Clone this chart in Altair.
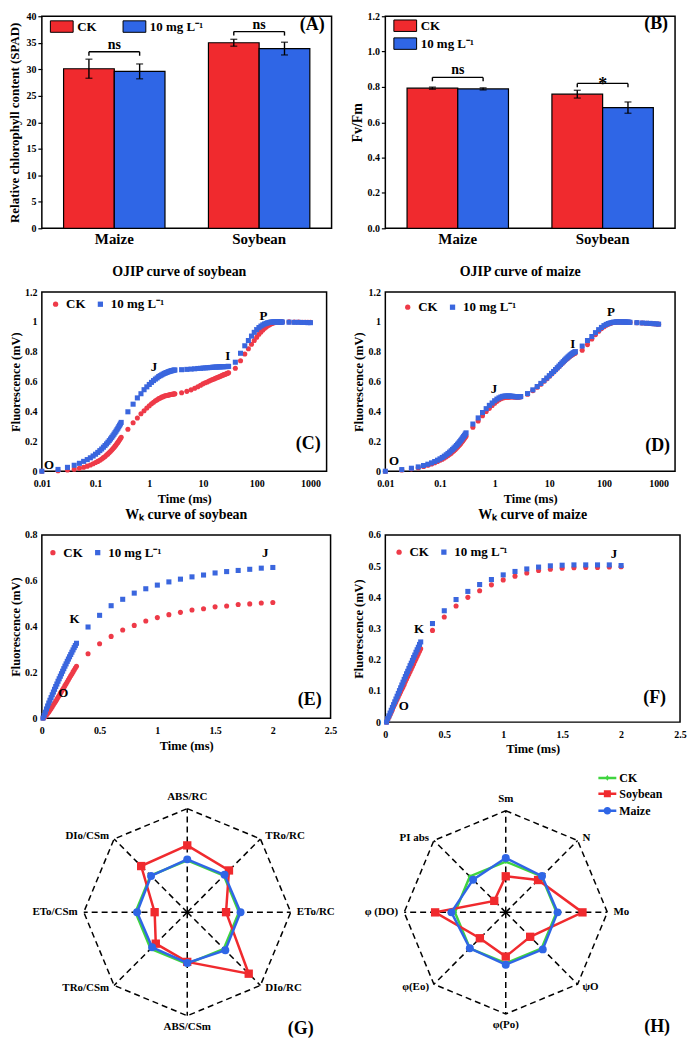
import altair as alt
import pandas as pd

FONT = "Liberation Serif"
RED = "#f02a2e"
BLUE = "#2f66e6"
PRED = "#ee3a48"
PBLUE = "#3a66de"
GREEN = "#3fd43f"

# ---------------- data : bar panels ----------------
crops = ["Maize", "Soybean"]
treatments = ["CK", "10 mg L⁻¹"]

spad_ck = [30.1, 35.0]
spad_ck_sd = [1.8, 0.65]
spad_trt = [29.6, 33.9]
spad_trt_sd = [1.4, 1.2]
spad_sig = ["ns", "ns"]
spad_bracket = [33.3, 37.1]

fvfm_ck = [0.793, 0.759]
fvfm_ck_sd = [0.006, 0.022]
fvfm_trt = [0.789, 0.683]
fvfm_trt_sd = [0.006, 0.032]
fvfm_sig = ["ns", "*"]
fvfm_bracket = [0.854, 0.820]

# ---------------- data : OJIP transients ----------------
time_ms = [0.01, 0.02, 0.03, 0.04, 0.05, 0.06, 0.07, 0.08, 0.09, 0.10,
           0.11, 0.12, 0.13, 0.14, 0.15, 0.16, 0.17, 0.18, 0.19, 0.20,
           0.21, 0.22, 0.23, 0.24, 0.25, 0.26, 0.27, 0.28, 0.29, 0.30,
           0.4, 0.5, 0.6, 0.7, 0.8, 0.9, 1.0, 1.1, 1.2, 1.3, 1.4, 1.5, 1.6, 1.7,
           1.8, 1.9, 2.0, 2.1, 2.2, 2.3, 2.4, 2.5, 2.6, 2.7, 2.8, 2.9, 3.0,
           4, 5, 6, 7, 8, 9, 10, 11, 12, 13, 14, 15, 16, 17, 18, 19, 20,
           21, 22, 23, 24, 25, 26, 27, 28, 29, 30,
           40, 50, 60, 70, 80, 90, 100, 110, 120, 130, 140, 150, 160, 170,
           180, 190, 200, 210, 220, 230, 240, 250, 260, 270, 280, 290, 300,
           400, 500, 600, 700, 800, 900, 1000]

soy_ck = [0.000, 0.003, 0.008, 0.014, 0.020, 0.027, 0.034, 0.042, 0.050, 0.058,
          0.066, 0.074, 0.082, 0.091, 0.099, 0.108, 0.116, 0.125, 0.133, 0.142,
          0.150, 0.159, 0.168, 0.176, 0.185, 0.193, 0.202, 0.210, 0.219, 0.227,
          0.281, 0.325, 0.357, 0.385, 0.405, 0.424, 0.439, 0.452, 0.462, 0.472, 0.478, 0.486, 0.490, 0.496,
          0.499, 0.503, 0.505, 0.507, 0.509, 0.511, 0.512, 0.514, 0.515, 0.516, 0.517, 0.518, 0.519,
          0.525, 0.535, 0.545, 0.556, 0.566, 0.576, 0.585, 0.592, 0.598, 0.604, 0.609, 0.614, 0.618, 0.622,
          0.626, 0.629, 0.633, 0.636, 0.639, 0.642, 0.645, 0.648, 0.650, 0.653, 0.655, 0.658, 0.660,
          0.690, 0.740, 0.785, 0.820, 0.850, 0.875, 0.898, 0.917, 0.933, 0.946, 0.957, 0.966, 0.974, 0.980,
          0.985, 0.989, 0.992, 0.994, 0.996, 0.997, 0.998, 0.999, 1.000, 1.000, 1.000, 1.000, 1.000,
          1.000, 0.999, 0.999, 0.998, 0.998, 0.997, 0.997]

soy_trt = [0.000, 0.012, 0.026, 0.040, 0.053, 0.066, 0.078, 0.090, 0.102, 0.114,
           0.126, 0.138, 0.149, 0.161, 0.172, 0.183, 0.194, 0.205, 0.216, 0.227,
           0.237, 0.248, 0.258, 0.268, 0.278, 0.288, 0.298, 0.308, 0.317, 0.327,
           0.398, 0.449, 0.491, 0.519, 0.546, 0.565, 0.581, 0.595, 0.607, 0.617, 0.625, 0.634, 0.640, 0.645,
           0.650, 0.655, 0.658, 0.661, 0.664, 0.667, 0.669, 0.671, 0.673, 0.674, 0.676, 0.677, 0.678,
           0.680, 0.682, 0.684, 0.686, 0.688, 0.689, 0.691, 0.692, 0.693, 0.694, 0.695, 0.696, 0.697, 0.697,
           0.698, 0.698, 0.699, 0.699, 0.700, 0.700, 0.700, 0.701, 0.701, 0.701, 0.701, 0.702, 0.702,
           0.730, 0.790, 0.840, 0.875, 0.905, 0.930, 0.948, 0.962, 0.972, 0.980, 0.986, 0.990, 0.994, 0.996,
           0.998, 0.999, 1.000, 1.000, 1.000, 1.000, 1.000, 1.000, 1.000, 0.999, 0.999, 0.999, 0.999,
           0.998, 0.997, 0.997, 0.996, 0.996, 0.995, 0.995]

maize_ck = [0.000, 0.008, 0.016, 0.024, 0.032, 0.040, 0.049, 0.057, 0.065, 0.073,
            0.081, 0.089, 0.097, 0.105, 0.113, 0.121, 0.130, 0.138, 0.146, 0.154,
            0.162, 0.170, 0.178, 0.186, 0.195, 0.203, 0.211, 0.219, 0.227, 0.235,
            0.294, 0.337, 0.372, 0.400, 0.421, 0.440, 0.456, 0.468, 0.478, 0.486, 0.490, 0.493, 0.495, 0.496,
            0.496, 0.497, 0.498, 0.498, 0.498, 0.497, 0.497, 0.497, 0.497, 0.497, 0.498, 0.498, 0.499,
            0.515, 0.540, 0.562, 0.583, 0.602, 0.620, 0.636, 0.651, 0.665, 0.678, 0.690, 0.701, 0.711, 0.721,
            0.730, 0.738, 0.746, 0.753, 0.759, 0.765, 0.770, 0.775, 0.779, 0.783, 0.786, 0.789, 0.792,
            0.810, 0.848, 0.885, 0.915, 0.938, 0.955, 0.968, 0.978, 0.985, 0.990, 0.994, 0.996, 0.998, 0.999,
            1.000, 1.000, 1.000, 1.000, 1.000, 0.999, 0.999, 0.999, 0.998, 0.998, 0.998, 0.997, 0.997,
            0.995, 0.993, 0.991, 0.989, 0.988, 0.986, 0.985]

maize_trt = [0.000, 0.011, 0.020, 0.029, 0.038, 0.047, 0.056, 0.065, 0.074, 0.083,
             0.092, 0.101, 0.110, 0.119, 0.128, 0.137, 0.146, 0.155, 0.163, 0.172,
             0.181, 0.189, 0.198, 0.207, 0.215, 0.224, 0.232, 0.240, 0.249, 0.257,
             0.316, 0.357, 0.393, 0.419, 0.441, 0.457, 0.472, 0.483, 0.491, 0.497, 0.501, 0.503, 0.504, 0.504,
             0.504, 0.504, 0.502, 0.502, 0.501, 0.500, 0.500, 0.499, 0.499, 0.499, 0.499, 0.500, 0.500,
             0.520, 0.545, 0.567, 0.588, 0.607, 0.624, 0.640, 0.655, 0.668, 0.681, 0.693, 0.704, 0.715, 0.725,
             0.734, 0.743, 0.751, 0.758, 0.765, 0.771, 0.777, 0.782, 0.787, 0.791, 0.795, 0.798, 0.801,
             0.838, 0.875, 0.902, 0.928, 0.948, 0.963, 0.975, 0.983, 0.989, 0.993, 0.996, 0.998, 0.999, 1.000,
             1.000, 1.000, 1.000, 1.000, 1.000, 0.999, 0.999, 0.999, 0.998, 0.998, 0.998, 0.997, 0.997,
             0.995, 0.993, 0.991, 0.990, 0.988, 0.987, 0.985]

# curve annotations (label, time, fluorescence)
ann_c = [("O", 0.0136, 0.043), ("J", 1.22, 0.70), ("I", 28.8, 0.774), ("P", 134, 1.04)]
ann_d = [("O", 0.0144, 0.067), ("J", 0.97, 0.55), ("I", 27, 0.855), ("P", 134, 1.065)]
ann_e = [("O", 0.186, 0.108), ("K", 0.283, 0.434), ("J", 1.934, 0.72)]
ann_f = [("O", 0.157, 0.053), ("K", 0.286, 0.30), ("J", 1.94, 0.539)]

# ---------------- data : radar panels ----------------
series_names = ["CK", "Soybean", "Maize"]
g_axes = ["ABS/RC", "TRo/RC", "ETo/RC", "DIo/RC", "ABS/CSm", "TRo/CSm", "ETo/CSm", "DIo/CSm"]
g_ck = [1.0, 1.0, 1.0, 1.0, 1.0, 1.0, 1.0, 1.0]
g_soy = [1.29, 1.14, 0.75, 1.68, 0.96, 0.86, 0.63, 1.26]
g_maize = [1.02, 1.02, 1.03, 1.04, 0.98, 0.96, 0.97, 0.99]

h_axes = ["Sm", "N", "Mo", "ψO", "φ(Po)", "φ(Eo)", "φ (DO)", "PI abs"]
h_ck = [1.0, 1.0, 1.0, 1.0, 1.0, 1.0, 1.0, 1.0]
h_soy = [0.71, 0.90, 1.51, 0.68, 0.87, 0.72, 1.39, 0.32]
h_maize = [1.07, 1.01, 1.02, 1.03, 1.03, 1.00, 1.07, 0.91]

R_MAX = 2.0
R_LAB = 2.08

RECT = "M-1.27,-0.64H1.27V0.64H-1.27Z"


def bold_text(**kw):
    base = dict(font=FONT, fontWeight="bold", color="black")
    base.update(kw)
    return base


def letter_layer(letter, x, y, size=18):
    return alt.Chart(pd.DataFrame({"t": [letter]})).mark_text(
        **bold_text(fontSize=size, align="right", baseline="middle")
    ).encode(x=alt.value(x), y=alt.value(y), text="t:N")


def bar_panel(ck, ck_sd, trt, trt_sd, sig, br, drop, ymax, yvals, yfmt, ytitle, ytitle_size,
              ytitle_pad, legend, letter, w, h, letter_y):
    rows = []
    for i, c in enumerate(crops):
        rows.append(dict(crop=c, trt=treatments[0], v=ck[i], lo=ck[i] - ck_sd[i], hi=ck[i] + ck_sd[i]))
        rows.append(dict(crop=c, trt=treatments[1], v=trt[i], lo=trt[i] - trt_sd[i], hi=trt[i] + trt_sd[i]))
    df = pd.DataFrame(rows)
    brows = []
    for i, c in enumerate(crops):
        for t in treatments:
            brows.append(dict(crop=c, trt=t, b=br[i], b2=br[i] - drop))
    bdf = pd.DataFrame(brows)
    sdf = pd.DataFrame({"crop": crops, "sig": sig, "b": br})

    X = alt.X("crop:N", sort=crops, title=None,
              scale=alt.Scale(paddingInner=0.3, paddingOuter=0.15),
              axis=alt.Axis(labelAngle=0, labelFontSize=15, ticks=False, labelPadding=3))
    XO = alt.XOffset("trt:N", sort=treatments)
    ys = alt.Scale(domain=[0, ymax], nice=False)
    yax = alt.Axis(values=yvals, tickCount=len(yvals), format=yfmt, labelFontSize=10, ticks=True,
                   tickSize=4, tickWidth=1.2, labelPadding=2, labelOverlap=False,
                   titleFontSize=ytitle_size, titlePadding=ytitle_pad)
    Yv = alt.Y("v:Q", scale=ys, axis=yax, title=ytitle)

    bars = alt.Chart(df).mark_bar(stroke="black", strokeWidth=1.2, opacity=1).encode(
        x=X, xOffset=XO, y=Yv,
        color=alt.Color("trt:N", sort=treatments,
                        scale=alt.Scale(domain=treatments, range=[RED, BLUE]), legend=legend),
    )
    err = alt.Chart(df).mark_rule(color="black", strokeWidth=1.4).encode(
        x=X, xOffset=XO, y=alt.Y("lo:Q", scale=ys, axis=yax, title=ytitle), y2="hi:Q")
    cap1 = alt.Chart(df).mark_tick(color="black", size=7, thickness=1.4).encode(
        x=X, xOffset=XO, y=alt.Y("lo:Q", scale=ys, axis=yax, title=ytitle))
    cap2 = alt.Chart(df).mark_tick(color="black", size=7, thickness=1.4).encode(
        x=X, xOffset=XO, y=alt.Y("hi:Q", scale=ys, axis=yax, title=ytitle))
    bline = alt.Chart(bdf).mark_line(color="black", strokeWidth=1.4).encode(
        x=X, xOffset=XO, y=alt.Y("b:Q", scale=ys, axis=yax, title=ytitle), detail="crop:N")
    bends = alt.Chart(bdf).mark_rule(color="black", strokeWidth=1.4).encode(
        x=X, xOffset=XO, y=alt.Y("b:Q", scale=ys, axis=yax, title=ytitle), y2="b2:Q")
    ns = alt.Chart(sdf).transform_filter("datum.sig == 'ns'").mark_text(
        **bold_text(fontSize=14, baseline="alphabetic", dy=-3)).encode(
        x=X, y=alt.Y("b:Q", scale=ys, axis=yax, title=ytitle), text="sig:N")
    star = alt.Chart(sdf).transform_filter("datum.sig == '*'").mark_text(
        **bold_text(fontSize=18, baseline="alphabetic", dy=7)).encode(
        x=X, y=alt.Y("b:Q", scale=ys, axis=yax, title=ytitle), text="sig:N")
    lett = letter_layer(letter, w - 7, letter_y)
    return alt.layer(bars, err, cap1, cap2, bline, bends, ns, star, lett).properties(width=w, height=h)


def bar_legend(direction, lx, ly):
    return alt.Legend(title=None, orient="none", legendX=lx, legendY=ly, direction=direction,
                      symbolType=RECT, symbolSize=324, symbolStrokeColor="black",
                      symbolStrokeWidth=1, symbolOpacity=1, labelFontSize=13, labelOffset=6,
                      columnPadding=24, rowPadding=0, padding=0)


def curve_panel(t, ck, trt, logscale, xdom, xvals, yvals, title, title_dx, ann, letter,
                letter_dx, letter_dy, w, h, lx, ly, tmax=None):
    tt, cc, rr = list(t), list(ck), list(trt)
    if tmax is not None:
        keep = [i for i, v in enumerate(tt) if v <= tmax]
        tt = [tt[i] for i in keep]
        cc = [cc[i] for i in keep]
        rr = [rr[i] for i in keep]
    df = pd.DataFrame({"t": tt + tt, "v": cc + rr,
                       "s": [treatments[0]] * len(tt) + [treatments[1]] * len(tt)})
    if logscale:
        xs = alt.Scale(type="log", domain=xdom, nice=False)
    else:
        xs = alt.Scale(domain=xdom, nice=False, zero=False)
    X = alt.X("t:Q", scale=xs, title="Time (ms)",
              axis=alt.Axis(values=xvals, format="~g", labelFontSize=10, ticks=False,
                            labelOverlap=False, labelPadding=7, titleFontSize=12.5, titlePadding=4))
    Y = alt.Y("v:Q", scale=alt.Scale(domain=[0, yvals[-1]], nice=False), title="Fluorescence (mV)",
              axis=alt.Axis(values=yvals, format="~g", labelFontSize=10, ticks=False,
                            labelOverlap=False, labelPadding=5, titleFontSize=12.5, titlePadding=2))
    leg = alt.Legend(title=None, orient="none", legendX=lx, legendY=ly, direction="horizontal",
                     symbolSize=28, labelFontSize=13, labelOffset=4, columnPadding=8,
                     padding=0, symbolOpacity=1)
    pts = alt.Chart(df).mark_point(filled=True, opacity=1, size=26).encode(
        x=X, y=Y,
        color=alt.Color("s:N", sort=treatments,
                        scale=alt.Scale(domain=treatments, range=[PRED, PBLUE]), legend=leg),
        shape=alt.Shape("s:N", sort=treatments,
                        scale=alt.Scale(domain=treatments, range=["circle", "square"]), legend=leg),
    )
    adf = pd.DataFrame({"lab": [a[0] for a in ann], "t": [a[1] for a in ann],
                        "v": [a[2] for a in ann]})
    labs = alt.Chart(adf).mark_text(**bold_text(fontSize=13)).encode(x=X, y=Y, text="lab:N")
    lett = letter_layer(letter, w - letter_dx, h - letter_dy)
    return alt.layer(pts, labs, lett).properties(
        width=w, height=h,
        title=alt.TitleParams(title, fontSize=14, font=FONT, fontWeight="bold", offset=8,
                              frame="group", dx=title_dx))


def radar_panel(axes, ck, soy, maize, w, h, xdom, ydom, letter, letter_xy, legend_xy=None):
    n = len(axes)
    rows = []
    for name, vals in (("CK", ck), ("Soybean", soy), ("Maize", maize)):
        for i in range(n + 1):
            rows.append({"series": name, "idx": i, "r": vals[i % n]})
    poly = pd.DataFrame(rows)
    frame = pd.DataFrame({"idx": list(range(n + 1)), "r": [R_MAX] * (n + 1)})
    labs = pd.DataFrame({"name": axes, "idx": list(range(n)), "r": [R_LAB] * n})
    ang = f"datum.idx * 2 * PI / {n}"
    calc = dict(px=f"datum.r * sin({ang})", py=f"datum.r * cos({ang})")
    xs = alt.Scale(domain=xdom, nice=False, zero=False)
    ys = alt.Scale(domain=ydom, nice=False, zero=False)
    X = alt.X("px:Q", scale=xs, axis=None)
    Y = alt.Y("py:Q", scale=ys, axis=None)

    octa = alt.Chart(frame).transform_calculate(**calc).mark_line(
        color="black", strokeWidth=1.5, strokeDash=[6, 4]).encode(x=X, y=Y, order="idx:Q")
    spokes = alt.Chart(frame).transform_filter(f"datum.idx < {n}").transform_calculate(
        ox="0", oy="0", **calc).mark_rule(color="black", strokeWidth=1.5, strokeDash=[6, 4]).encode(
        x=alt.X("ox:Q", scale=xs, axis=None), y=alt.Y("oy:Q", scale=ys, axis=None),
        x2="px:Q", y2="py:Q")
    layers = [octa, spokes]
    for name, color, shape, size in (("CK", GREEN, "diamond", 22), ("Soybean", RED, "square", 70),
                                     ("Maize", BLUE, "circle", 64)):
        b = alt.Chart(poly).transform_filter(f"datum.series == '{name}'").transform_calculate(**calc)
        layers.append(b.mark_line(color=color, strokeWidth=2.5).encode(x=X, y=Y, order="idx:Q"))
        layers.append(b.transform_filter(f"datum.idx < {n}").mark_point(
            shape=shape, filled=True, size=size, color=color, opacity=1).encode(x=X, y=Y))
    lb = alt.Chart(labs).transform_calculate(**calc)
    half = n // 2
    layers.append(lb.transform_filter("datum.idx == 0").mark_text(
        **bold_text(fontSize=11, baseline="bottom", dy=-3)).encode(x=X, y=Y, text="name:N"))
    layers.append(lb.transform_filter(f"datum.idx == {half}").mark_text(
        **bold_text(fontSize=11, baseline="top", dy=1)).encode(x=X, y=Y, text="name:N"))
    layers.append(lb.transform_filter(f"datum.idx > 0 && datum.idx < {half}").mark_text(
        **bold_text(fontSize=11, align="left", baseline="middle", dx=2)).encode(x=X, y=Y, text="name:N"))
    layers.append(lb.transform_filter(f"datum.idx > {half}").mark_text(
        **bold_text(fontSize=11, align="right", baseline="middle", dx=-2)).encode(x=X, y=Y, text="name:N"))
    if legend_xy is not None:
        ck_sym = "M-1,-0.14H1V0.14H-1ZM0,-0.32L0.24,0L0,0.32L-0.24,0Z"
        soy_sym = "M-1,-0.14H1V0.14H-1ZM-0.39,-0.39H0.39V0.39H-0.39Z"
        mz_sym = "M-1,-0.14H1V0.14H-1ZM0.42,0A0.42,0.42,0,1,1,-0.42,0A0.42,0.42,0,1,1,0.42,0Z"
        leg = alt.Legend(title=None, orient="none", legendX=legend_xy[0], legendY=legend_xy[1],
                         direction="vertical", symbolSize=324, symbolOpacity=1, labelFontSize=12,
                         labelOffset=2, rowPadding=0, padding=0)
        lg = alt.Chart(poly).transform_filter("datum.idx == 0").transform_calculate(**calc).mark_point(
            filled=True, opacity=0, size=1).encode(
            x=X, y=Y,
            color=alt.Color("series:N", sort=series_names,
                            scale=alt.Scale(domain=series_names, range=[GREEN, RED, BLUE]), legend=leg),
            shape=alt.Shape("series:N", sort=series_names,
                            scale=alt.Scale(domain=series_names, range=[ck_sym, soy_sym, mz_sym]),
                            legend=leg))
        layers.append(lg)
    layers.append(letter_layer(letter, letter_xy[0], letter_xy[1]))
    return alt.layer(*layers).properties(width=w, height=h,
                                         view=alt.ViewBackground(stroke="transparent"))


A = bar_panel(spad_ck, spad_ck_sd, spad_trt, spad_trt_sd, spad_sig, spad_bracket, 0.75, 40,
              [0, 5, 10, 15, 20, 25, 30, 35, 40], "d", "Relative chlorophyll content (SPAD)", 13, 4,
              bar_legend("horizontal", 10.5, 0.5), "(A)", 291, 213, 9)
B = bar_panel(fvfm_ck, fvfm_ck_sd, fvfm_trt, fvfm_trt_sd, fvfm_sig, fvfm_bracket, 0.022, 1.2,
              [0, 0.2, 0.4, 0.6, 0.8, 1.0, 1.2], ".1f", "Fv/Fm", 14, 2,
              bar_legend("vertical", 10.5, 0), "(B)", 291, 213, 8)

log_vals = [0.01, 0.1, 1, 10, 100, 1000]
C = curve_panel(time_ms, soy_ck, soy_trt, True, [0.01, 2000], log_vals,
                [0, 0.2, 0.4, 0.6, 0.8, 1, 1.2], "OJIP curve of soybean", -5, ann_c, "(C)",
                6, 27, 286, 180, 7.3, 5.5)
D = curve_panel(time_ms, maize_ck, maize_trt, True, [0.01, 2000], log_vals,
                [0, 0.2, 0.4, 0.6, 0.8, 1, 1.2], "OJIP curve of maize", -10, ann_d, "(D)",
                5, 25, 291, 180, 16, 8.5)
E = curve_panel(time_ms, soy_ck, soy_trt, False, [0, 2.5], [0, 0.5, 1, 1.5, 2, 2.5],
                [0, 0.2, 0.4, 0.6, 0.8], "Wₖ curve of soybean", 0, ann_e, "(E)",
                9, 18, 290, 184, 4.6, 11, tmax=2.0)
F = curve_panel(time_ms, maize_ck, maize_trt, False, [0, 2.5], [0, 0.5, 1, 1.5, 2, 2.5],
                [0, 0.1, 0.2, 0.3, 0.4, 0.5, 0.6], "Wₖ curve of maize", 0, ann_f, "(F)",
                14, 24, 296, 188, 7.3, 10.5, tmax=2.0)

G = radar_panel(g_axes, g_ck, g_soy, g_maize, 303, 246, [-2.81, 3.02], [-2.29, 2.44], "(G)", (273, 244))
H = radar_panel(h_axes, h_ck, h_soy, h_maize, 296, 246, [-2.37, 3.43], [-2.33, 2.49], "(H)", (286, 242),
                legend_xy=(213, -18))

chart = alt.concat(A, B, C, D, E, F, G, H, columns=2, bounds="flush", align="each",
                   spacing={"row": 64, "column": 42}).resolve_scale(
    x="independent", y="independent", color="independent", shape="independent",
    xOffset="independent").resolve_legend(color="independent", shape="independent").resolve_axis(
    x="independent", y="independent").properties(padding=0)

chart = chart.configure(font=FONT).configure_view(stroke="black", strokeWidth=1.5).configure_axis(
    labelFont=FONT, titleFont=FONT, labelFontWeight="bold", titleFontWeight="bold",
    labelColor="black", titleColor="black", grid=False, domain=False, tickColor="black",
    labelFlush=False, labelOverlap=False).configure_legend(
    labelFont=FONT, labelFontWeight="bold", labelColor="black").configure_title(
    font=FONT, fontWeight="bold", color="black")

chart.save("out.html", embed_options={"renderer": "svg", "actions": False})
